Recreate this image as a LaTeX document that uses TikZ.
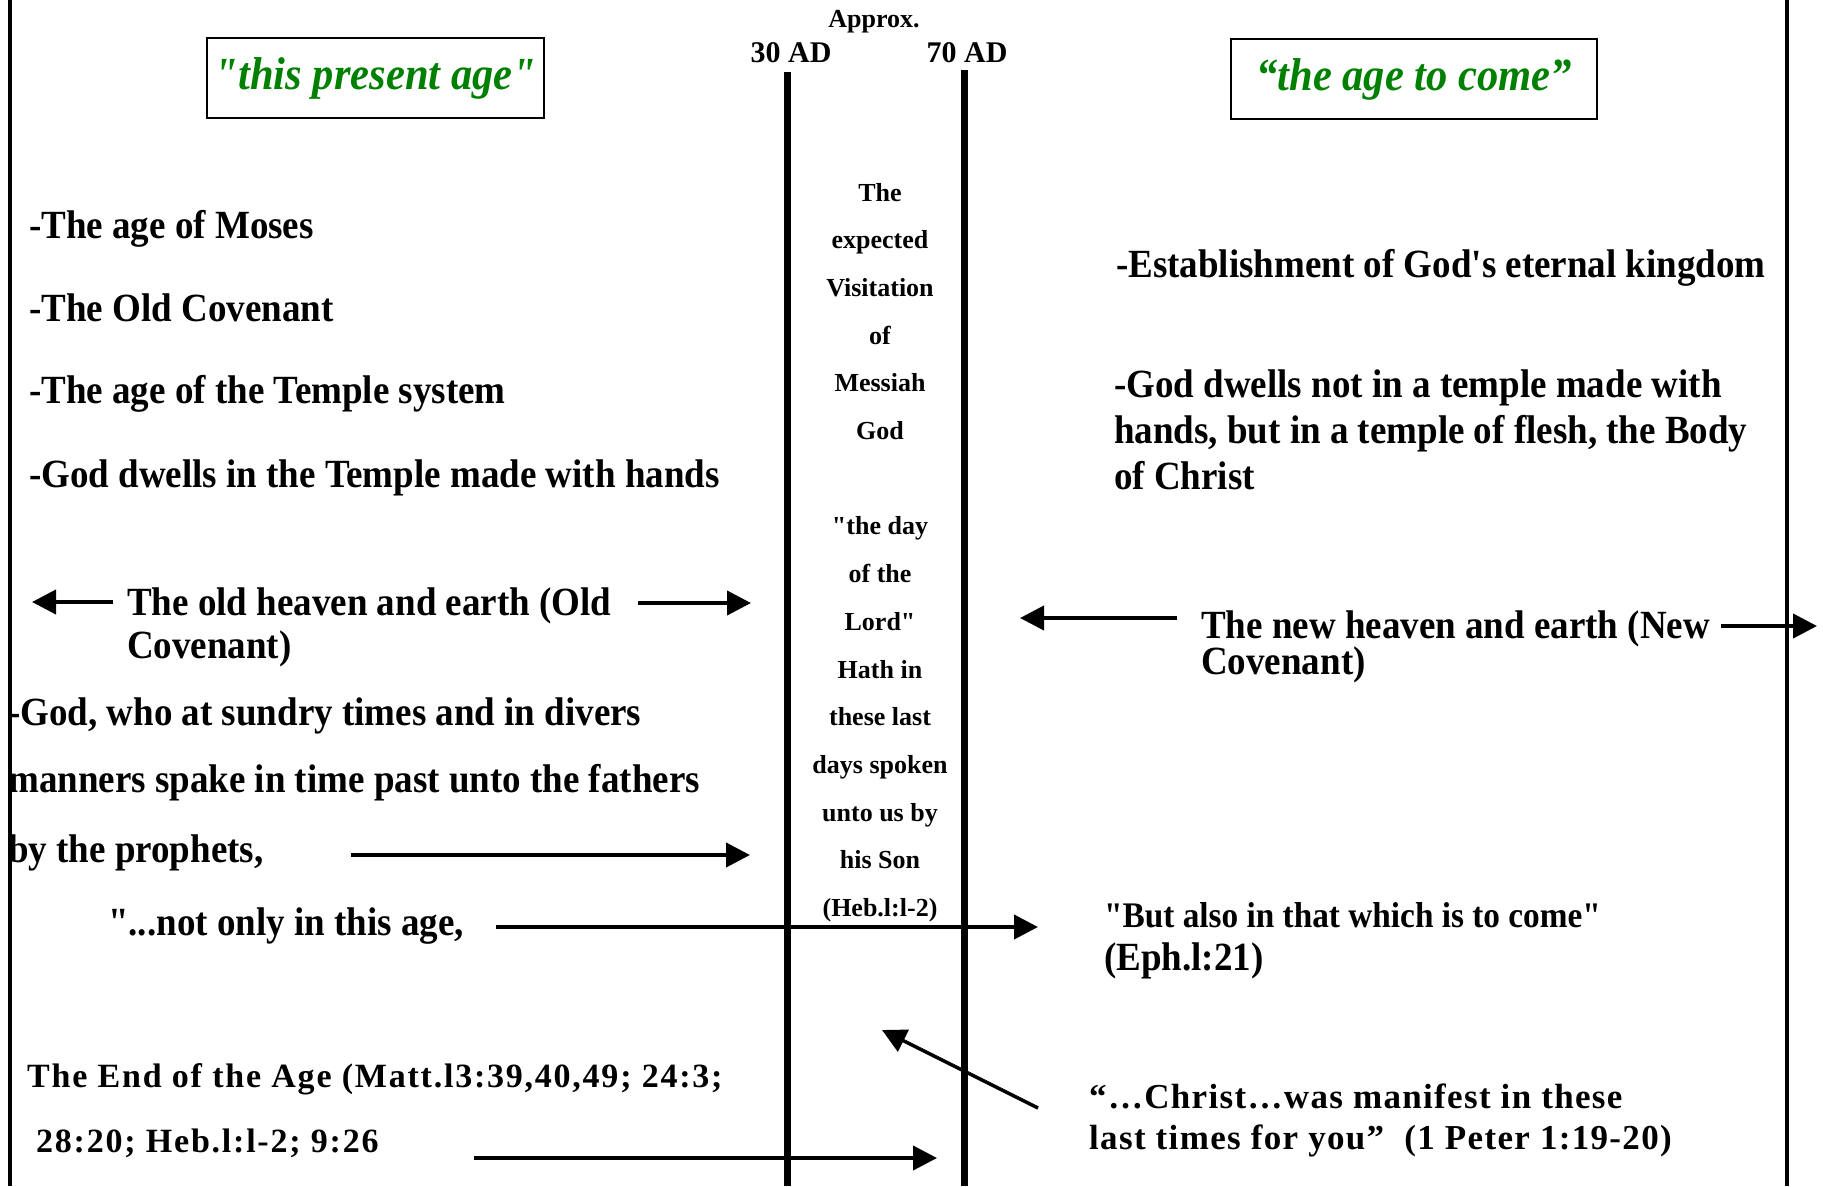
\documentclass[tikz,border=0pt]{standalone}
\usepackage{fontspec}
\setmainfont{Liberation Serif}[Ligatures=TeXOff]
\newfontfamily\narrowfont{Liberation Serif}[Ligatures=TeXOff,FakeStretch=0.925]
\newfontfamily\spacedfont{Liberation Serif}[Ligatures=TeXOff,LetterSpace=3.8]
\usetikzlibrary{arrows.meta}
\definecolor{agegreen}{RGB}{0,128,0}

\begin{document}
\begin{tikzpicture}[x=1pt,y=-1pt,
    txt/.style={anchor=base west,inner sep=0pt,font=\narrowfont\fontsize{40}{48}\selectfont\bfseries},
    quote/.style={anchor=base west,inner sep=0pt,font=\spacedfont\fontsize{35}{40}\selectfont\bfseries},
    mid/.style={anchor=base,inner sep=0pt,font=\fontsize{26}{30}\selectfont\bfseries},
    era/.style={anchor=base,inner sep=0pt,font=\fontsize{30}{36}\selectfont\bfseries},
    agebox/.style={draw,line width=2pt,minimum width=337pt,minimum height=80pt,inner sep=0pt,
      text=agegreen,font=\narrowfont\fontsize{46}{52}\selectfont\bfseries\itshape},
    bigarrow/.style={line width=4pt,-{Triangle[length=24pt,width=24pt]}}]

    \useasboundingbox (0,0) rectangle (1823,1186);

    \draw[line width=3.5pt] (10,0) -- (10,1186);
    \draw[line width=3.5pt] (1787,0) -- (1787,1186);
    \draw[line width=7pt] (787,72) -- (787,1186);
    \draw[line width=7pt] (964,70) -- (964,1186);

    \node[mid] (approx) at (874,27) {Approx.};
    \node[era] (ad30) at (791,62) {30 AD};
    \node[era] (ad70) at (967,62) {70 AD};

    \node[agebox] (present) at (375.5,78) {"this present age"};
    \node[agebox,minimum width=366pt] (tocome) at (1414,79) {“the age to come”};

    % this present age
    \node[txt] (moses) at (29,238) {-The age of Moses};
    \node[txt] (oldcovt) at (29,321) {-The Old Covenant};
    \node[txt] (temple) at (29,403) {-The age of the Temple system};
    \node[txt] (hands) at (29,487) {-God dwells in the Temple made with hands};

    \node[txt] (oldhe) at (127,615) {The old heaven and earth (Old};
    \node[txt] (oldcov) at (127,658) {Covenant)};
    \coordinate (oldtail) at (113,602);
    \coordinate (oldtipL) at (32,602);
    \coordinate (oldstart) at (638,603);
    \coordinate (oldtipR) at (751,603);
    \draw[bigarrow] (oldtail) -- (oldtipL);
    \draw[bigarrow] (oldstart) -- (oldtipR);

    \node[txt] (sundry) at (8,725) {-God, who at sundry times and in divers};
    \node[txt] (manners) at (8,792) {manners spake in time past unto the fathers};
    \node[txt] (prophets) at (8,862) {by the prophets,};
    \coordinate (proptail) at (351,855);
    \coordinate (proptip) at (750,855);
    \draw[bigarrow] (proptail) -- (proptip);

    \node[txt] (notonly) at (108,935) {"...not only in this age,};
    \coordinate (onlytail) at (496,927);
    \coordinate (onlytip) at (1038,927);
    \draw[bigarrow] (onlytail) -- (onlytip);

    \node[quote,font=\spacedfont\fontsize{34}{40}\selectfont\bfseries\addfontfeature{LetterSpace=5.2}] (endage) at (27,1087) {The End of the Age (Matt.l3:39,40,49; 24:3;};
    \node[quote,font=\spacedfont\fontsize{34}{40}\selectfont\bfseries\addfontfeature{LetterSpace=5.2}] (endrefs) at (36,1152) {28:20; Heb.l:l-2; 9:26};
    \coordinate (endtail) at (474,1158);
    \coordinate (endtip) at (937,1158);
    \draw[bigarrow] (endtail) -- (endtip);

    % between 30 and 70 AD
    \foreach \t [count=\i from 0] in {The,expected,Visitation,of,{Messiah\ },God,{},{"the day},{of the},{Lord"},{Hath in},{these last},{days spoken},{unto us by},{his Son},{(Heb.l:l-2)}}
        \node[mid] (visit\i) at (880,201+47.7*\i) {\t};

    % the age to come
    \node[txt] (kingdom) at (1116,277) {-Establishment of God's eternal kingdom};
    \node[txt] (notin) at (1114,397) {-God dwells not in a temple made with};
    \node[txt] (flesh) at (1114,443) {hands, but in a temple of flesh, the Body};
    \node[txt] (body) at (1114,489) {of Christ};

    \node[txt] (newhe) at (1201,638) {The new heaven and earth (New};
    \node[txt] (newcov) at (1201,674) {Covenant)};
    \coordinate (newtail) at (1177,618);
    \coordinate (newtipL) at (1020,618);
    \coordinate (newstart) at (1721,626);
    \coordinate (newtipR) at (1817,626);
    \draw[bigarrow] (newtail) -- (newtipL);
    \draw[bigarrow] (newstart) -- (newtipR);

    \node[txt,font=\narrowfont\fontsize{36}{40}\selectfont\bfseries] (butalso) at (1104,927) {"But also in that which is to come"};
    \node[txt,font=\narrowfont\fontsize{40}{48}\selectfont\bfseries] (eph) at (1104,970) {(Eph.l:21)};

    \node[quote] (manifest) at (1089,1108) {“…Christ…was manifest in these};
    \node[quote] (lasttimes) at (1089,1149) {last times for you”\ \ (1 Peter 1:19-20)};
    \coordinate (maniftail) at (1038,1108);
    \coordinate (maniftip) at (882,1030);
    \draw[bigarrow,line width=3.5pt] (maniftail) -- (maniftip);
\end{tikzpicture}
\end{document}
